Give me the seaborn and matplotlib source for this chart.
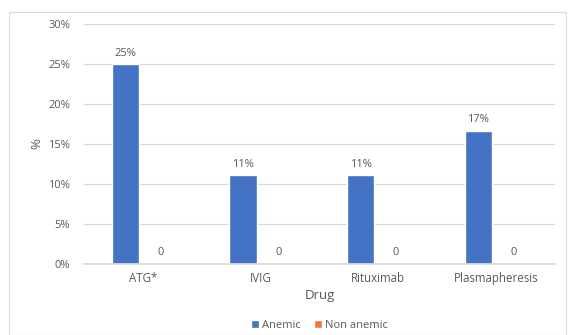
import matplotlib
matplotlib.use("Agg")
import matplotlib.pyplot as plt
import seaborn as sns
import pandas as pd
from matplotlib.patches import Rectangle

drugs = ["ATG*", "IVIG", "Rituximab", "Plasmapheresis"]
anemic = [25.0, 11.11, 11.11, 16.67]
non_anemic = [0.0, 0.0, 0.0, 0.0]
anemic_labels = ["25%", "11%", "11%", "17%"]
non_anemic_labels = ["0", "0", "0", "0"]
series = ["Anemic", "Non anemic"]
yticks = [0, 5, 10, 15, 20, 25, 30]

df = pd.DataFrame({
    "Drug": drugs * 2,
    "value": anemic + non_anemic,
    "group": [series[0]] * 4 + [series[1]] * 4,
})

sns.set_theme(style="white")
plt.rcParams["font.family"] = ["Open Sans", "DejaVu Sans"]
txt = "#595959"

fig = plt.figure(figsize=(5.69, 3.35), dpi=100)
ax = fig.add_axes([0.148, 0.212, 0.827, 0.716])

sns.barplot(data=df, x="Drug", y="value", hue="group", order=drugs,
            hue_order=series, palette=["#4472C4", "#ED7D31"], saturation=1,
            width=0.6, gap=0.22, ax=ax, legend=True)

for cont, labs in zip(ax.containers, [anemic_labels, non_anemic_labels]):
    ax.bar_label(cont, labels=labs, padding=4, fontsize=8, color=txt)

ax.set_ylim(0, 30)
ax.set_yticks(yticks)
ax.set_yticklabels([f"{t}%" for t in yticks], fontsize=8, color=txt)
ax.tick_params(axis="x", labelsize=8.3, colors=txt, length=0, pad=6)
ax.tick_params(axis="y", length=0, pad=10)
ax.yaxis.grid(True, color="#D9D9D9", linewidth=0.8)
ax.set_axisbelow(True)
for s in ["top", "right", "left"]:
    ax.spines[s].set_visible(False)
ax.spines["bottom"].set_color("#D9D9D9")
ax.set_xlabel("Drug", fontsize=9.5, color=txt, labelpad=3)
ax.set_ylabel("%", fontsize=9.5, color=txt, labelpad=4)

leg = ax.legend(loc="upper center", bbox_to_anchor=(0.5, -0.19), ncol=2,
                frameon=False, fontsize=8, handlelength=0.7, handleheight=0.7,
                columnspacing=1.2, handletextpad=0.3)
for t in leg.get_texts():
    t.set_color(txt)

fig.patches.append(Rectangle((9 / 569, 0.0), 557 / 569, 1 - 12 / 335,
                             transform=fig.transFigure, fill=False,
                             edgecolor="#D9D9D9", linewidth=0.8))

fig.savefig("out.png", dpi=100)
